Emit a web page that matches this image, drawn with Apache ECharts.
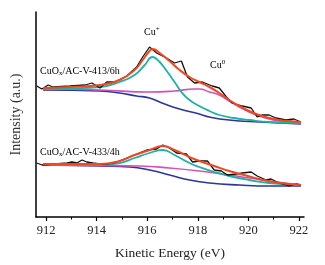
<!DOCTYPE html>
<html>
<head>
<meta charset="utf-8">
<script src="https://cdn.jsdelivr.net/npm/echarts@6/dist/echarts.min.js"></script>
<style>
  html, body { margin: 0; padding: 0; background: #fff; }
  #chart { width: 325px; height: 265px; }
</style>
</head>
<body>
<div id="chart"></div>
<script>
// x: kinetic energy (eV), y: intensity (a.u., arbitrary offset)
const majorTicks = [912, 914, 916, 918, 920, 922]
const minorTicks = [913, 915, 917, 919, 921]

// CuOx/AC-V-413/6h (upper spectrum)
const upperRaw = [[911.63,131],[911.83,128],[912.08,132],[912.28,130],[912.94,131],[913.54,132],[913.81,134],[914.13,129],[914.40,135],[914.72,135],[915.19,141],[915.58,150],[915.82,160],[916.09,170],[916.37,164],[916.76,159],[917.08,154],[917.35,156],[917.59,140],[917.87,134],[918.18,135],[918.57,131],[918.85,129],[919.13,120],[919.36,114],[919.76,111],[920.11,109],[920.35,100],[920.54,102],[920.82,102],[921.09,99],[921.49,97],[921.80,98],[922.08,95]]
const upperFit = [[911.88,129],[912.94,130],[914.13,132],[914.91,137],[915.50,147],[915.82,157],[916.09,166],[916.21,168],[916.49,164],[916.88,156],[917.28,147],[917.67,140],[918.06,135],[918.46,130],[918.85,124],[919.24,117],[919.64,111],[920.03,106],[920.43,102],[920.82,99],[921.21,97],[921.61,96],[922.08,95]]
const upperCuPlus = [[911.88,128],[912.94,128.5],[914.13,130],[914.91,135],[915.50,142],[915.90,152],[916.21,160],[916.49,155],[916.80,145],[917.08,135],[917.35,125],[917.67,117],[918.06,111],[918.46,106],[918.85,102],[919.44,99],[920.03,97],[920.82,95],[922.08,94]]
const upperCu0 = [[911.88,128],[914.13,127],[916.09,125],[917.08,126],[917.87,128],[918.06,128],[918.46,125],[918.85,122],[919.24,116],[919.64,110],[920.03,105],[920.43,101],[920.82,98],[921.21,96],[922.08,95]]
const upperBase = [[911.88,127],[914.13,126],[914.91,124],[915.58,121],[916.09,119],[916.69,113],[917.28,108],[918.06,103],[918.46,100],[919.24,97],[920.43,95],[922.08,93]]

// CuOx/AC-V-433/4h (lower spectrum)
const lowerRaw = [[911.63,54],[911.84,52],[912.35,53],[912.83,54],[913.02,55],[913.22,54],[913.42,57],[913.61,55],[913.85,54],[914.13,53],[914.40,53],[914.80,55],[915.19,59],[915.58,63],[915.98,67],[916.37,68],[916.61,72],[916.88,69],[917.16,64],[917.55,63],[917.79,55],[918.06,56],[918.38,56],[918.65,47],[918.93,46],[919.17,42],[919.52,43],[919.76,44],[920.11,45],[920.35,41],[920.70,37],[920.90,38],[921.21,34],[921.61,31],[921.88,33],[922.08,32]]
const lowerFit = [[911.88,53],[914.13,53],[914.91,56],[915.50,62],[916.09,67],[916.61,71],[917.08,67],[917.67,60],[918.06,56],[918.65,51],[919.24,46],[919.83,42],[920.43,38],[921.02,35],[921.61,33],[922.08,32]]
const lowerCuPlus = [[911.88,53],[914.13,52],[914.91,54],[915.50,59],[916.09,64],[916.61,67],[917.08,62],[917.67,54],[918.06,50],[918.65,45],[919.24,41],[920.03,37],[920.82,34],[922.08,32]]
const lowerCu0 = [[911.88,52],[914.13,51.5],[915.70,51],[916.88,49],[918.06,46],[919.24,42],[920.03,39],[920.82,36],[922.08,32]]
const lowerBase = [[911.88,52],[914.13,51],[915.31,50],[916.09,47],[916.88,42],[917.67,37],[918.46,34],[919.64,32],[920.82,31],[922.08,31]]

const serif = 'Liberation Serif'
const colors = {
  raw: '#111111',
  fit: '#f2471f',
  cuPlus: '#1fb0a6',
  cu0: '#d152b8',
  base: '#2b3699',
}

function line(data, color, width, smooth, z) {
  return {
    type: 'line',
    data: data,
    smooth: smooth,
    showSymbol: false,
    symbol: 'none',
    lineStyle: { color: color, width: width },
    z: z,
  }
}

let mychart = echarts.init(document.getElementById('chart'))
let option = {
  animation: false,
  backgroundColor: '#fff',
  grid: { left: 36, right: 21, top: 12, bottom: 48 },
  xAxis: [
    {
      type: 'value',
      min: 911.6,
      max: 922.2,
      name: 'Kinetic Energy (eV)',
      nameLocation: 'middle',
      nameGap: 29,
      nameTextStyle: { fontFamily: serif, fontSize: 13.5, color: '#222' },
      axisLine: { lineStyle: { color: '#000', width: 1.5 } },
      axisTick: { customValues: majorTicks, length: 4, lineStyle: { color: '#000', width: 1.2 } },
      axisLabel: { customValues: majorTicks, fontFamily: serif, fontSize: 12.5, color: '#222', margin: 7 },
      splitLine: { show: false },
    },
    {
      type: 'value',
      min: 911.6,
      max: 922.2,
      position: 'bottom',
      axisLine: { show: false },
      axisTick: { customValues: minorTicks, length: 2.5, lineStyle: { color: '#000', width: 1 } },
      axisLabel: { show: false },
      splitLine: { show: false },
    },
  ],
  yAxis: {
    type: 'value',
    min: 0,
    max: 205,
    name: 'Intensity (a.u.)',
    nameLocation: 'middle',
    nameGap: 13,
    nameTextStyle: { fontFamily: serif, fontSize: 14, color: '#333' },
    axisLine: { show: true, lineStyle: { color: '#000', width: 1.5 } },
    axisTick: { show: false },
    axisLabel: { show: false },
    splitLine: { show: false },
  },
  series: [
    line(upperBase, colors.base, 1.6, true, 2),
    line(upperCu0, colors.cu0, 1.6, true, 3),
    line(upperCuPlus, colors.cuPlus, 1.8, true, 4),
    line(upperRaw, colors.raw, 1.3, false, 5),
    line(upperFit, colors.fit, 2, true, 6),
    line(lowerBase, colors.base, 1.6, true, 2),
    line(lowerCu0, colors.cu0, 1.6, true, 3),
    line(lowerCuPlus, colors.cuPlus, 1.8, true, 4),
    line(lowerRaw, colors.raw, 1.3, false, 5),
    line(lowerFit, colors.fit, 2, true, 6),
  ],
  graphic: [],
}

const rich = {
  a: { fontFamily: serif, fontSize: 10, color: '#444' },
  sub: { fontFamily: serif, fontSize: 7, color: '#444', padding: [5, 0, 0, 0] },
  sup: { fontFamily: serif, fontSize: 7, color: '#444', padding: [0, 0, 5, 0] },
}
const notes = [
  { x: 144, y: 26, text: '{a|Cu}{sup|+}' },
  { x: 210, y: 59, text: '{a|Cu}{sup|0}' },
  { x: 40, y: 66, text: '{a|CuO}{sub|x}{a|/AC-V-413/6h}' },
  { x: 40, y: 147, text: '{a|CuO}{sub|x}{a|/AC-V-433/4h}' },
]
notes.forEach((n) => {
  option.graphic.push({
    type: 'text',
    left: n.x,
    top: n.y,
    style: { text: n.text, rich: rich },
    z: 10,
  })
})

mychart.setOption(option, true)
</script>
</body>
</html>
